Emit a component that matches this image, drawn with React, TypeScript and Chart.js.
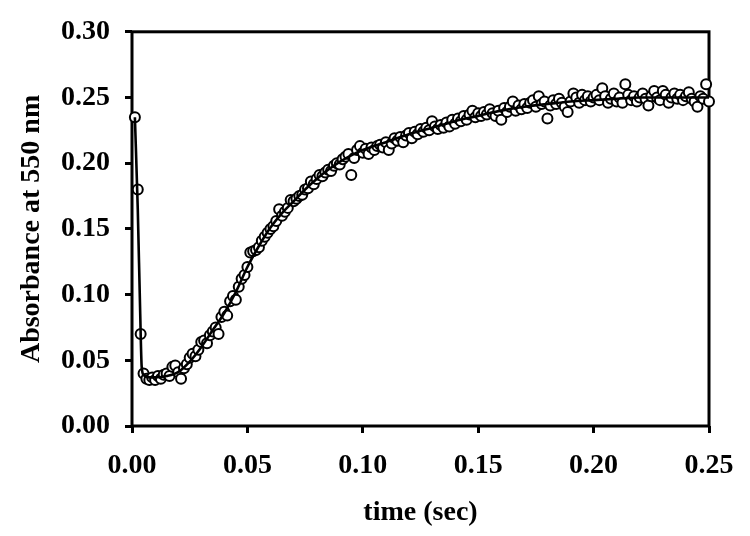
import { useEffect, useRef } from 'react';
import { Chart, registerables } from 'chart.js';

Chart.register(...registerables);

// Measured samples: time (s)
const sampleTime = [
  0.00125, 0.0025, 0.00375, 0.005, 0.00625, 0.0075, 0.00875, 0.01,
  0.01125, 0.0125, 0.01375, 0.015, 0.01625, 0.0175, 0.01875, 0.02,
  0.02125, 0.0225, 0.02375, 0.025, 0.02625, 0.0275, 0.02875, 0.03,
  0.03125, 0.0325, 0.03375, 0.035, 0.03625, 0.0375, 0.03875, 0.04,
  0.04125, 0.0425, 0.04375, 0.045, 0.04625, 0.0475, 0.04875, 0.05,
  0.05125, 0.0525, 0.05375, 0.055, 0.05625, 0.0575, 0.05875, 0.06,
  0.06125, 0.0625, 0.06375, 0.065, 0.06625, 0.0675, 0.06875, 0.07,
  0.07125, 0.0725, 0.07375, 0.075, 0.07625, 0.0775, 0.07875, 0.08,
  0.08125, 0.0825, 0.08375, 0.085, 0.08625, 0.0875, 0.08875, 0.09,
  0.09125, 0.0925, 0.09375, 0.095, 0.09625, 0.0975, 0.09875, 0.1,
  0.10125, 0.1025, 0.10375, 0.105, 0.10625, 0.1075, 0.10875, 0.11,
  0.11125, 0.1125, 0.11375, 0.115, 0.11625, 0.1175, 0.11875, 0.12,
  0.12125, 0.1225, 0.12375, 0.125, 0.12625, 0.1275, 0.12875, 0.13,
  0.13125, 0.1325, 0.13375, 0.135, 0.13625, 0.1375, 0.13875, 0.14,
  0.14125, 0.1425, 0.14375, 0.145, 0.14625, 0.1475, 0.14875, 0.15,
  0.15125, 0.1525, 0.15375, 0.155, 0.15625, 0.1575, 0.15875, 0.16,
  0.16125, 0.1625, 0.16375, 0.165, 0.16625, 0.1675, 0.16875, 0.17,
  0.17125, 0.1725, 0.17375, 0.175, 0.17625, 0.1775, 0.17875, 0.18,
  0.18125, 0.1825, 0.18375, 0.185, 0.18625, 0.1875, 0.18875, 0.19,
  0.19125, 0.1925, 0.19375, 0.195, 0.19625, 0.1975, 0.19875, 0.2,
  0.20125, 0.2025, 0.20375, 0.205, 0.20625, 0.2075, 0.20875, 0.21,
  0.21125, 0.2125, 0.21375, 0.215, 0.21625, 0.2175, 0.21875, 0.22,
  0.22125, 0.2225, 0.22375, 0.225, 0.22625, 0.2275, 0.22875, 0.23,
  0.23125, 0.2325, 0.23375, 0.235, 0.23625, 0.2375, 0.23875, 0.24,
  0.24125, 0.2425, 0.24375, 0.245, 0.24625, 0.2475, 0.24875, 0.25,
];

// Measured samples: absorbance at 550 nm
const sampleAbsorbance = [
  0.235, 0.180, 0.070, 0.040, 0.036, 0.035, 0.037, 0.035,
  0.038, 0.036, 0.039, 0.040, 0.038, 0.045, 0.046, 0.041,
  0.036, 0.044, 0.047, 0.052, 0.055, 0.053, 0.058, 0.064,
  0.065, 0.063, 0.069, 0.072, 0.075, 0.070, 0.083, 0.087,
  0.084, 0.095, 0.099, 0.096, 0.106, 0.112, 0.115, 0.121,
  0.132, 0.133, 0.134, 0.136, 0.141, 0.144, 0.147, 0.150,
  0.152, 0.156, 0.165, 0.160, 0.163, 0.166, 0.172, 0.171,
  0.173, 0.175, 0.176, 0.180, 0.181, 0.186, 0.184, 0.188,
  0.191, 0.190, 0.193, 0.195, 0.194, 0.198, 0.200, 0.199,
  0.203, 0.205, 0.207, 0.191, 0.204, 0.210, 0.213, 0.208,
  0.211, 0.207, 0.212, 0.210, 0.213, 0.214, 0.212, 0.216,
  0.210, 0.215, 0.219, 0.217, 0.220, 0.216, 0.221, 0.223,
  0.219, 0.224, 0.222, 0.226, 0.224, 0.227, 0.225, 0.232,
  0.228, 0.226, 0.229, 0.227, 0.231, 0.228, 0.233, 0.230,
  0.234, 0.232, 0.236, 0.233, 0.237, 0.240, 0.235, 0.238,
  0.236, 0.239, 0.237, 0.241, 0.238, 0.236, 0.240, 0.233,
  0.242, 0.239, 0.243, 0.247, 0.240, 0.244, 0.241, 0.245,
  0.242, 0.246, 0.248, 0.243, 0.251, 0.245, 0.247, 0.234,
  0.244, 0.248, 0.245, 0.249, 0.246, 0.243, 0.239, 0.247,
  0.253, 0.250, 0.246, 0.252, 0.248, 0.251, 0.247, 0.250,
  0.252, 0.248, 0.257, 0.251, 0.246, 0.249, 0.253, 0.247,
  0.250, 0.246, 0.260, 0.252, 0.248, 0.251, 0.247, 0.250,
  0.253, 0.249, 0.244, 0.251, 0.255, 0.250, 0.248, 0.255,
  0.252, 0.246, 0.250, 0.253, 0.249, 0.252, 0.248, 0.251,
  0.254, 0.249, 0.247, 0.243, 0.251, 0.249, 0.260, 0.247,
];

// Fitted curve
const fitTime = [
  0.00125, 0.0025, 0.0035, 0.0042, 0.005, 0.0075, 0.01, 0.015, 0.02, 0.025,
  0.03, 0.035, 0.04, 0.045, 0.05, 0.055, 0.06, 0.065, 0.07, 0.075,
  0.08, 0.085, 0.09, 0.095, 0.1, 0.11, 0.12, 0.13, 0.14, 0.15,
  0.16, 0.17, 0.18, 0.19, 0.2, 0.21, 0.22, 0.23, 0.24, 0.25,
];
const fitAbsorbance = [
  0.235, 0.165, 0.09, 0.045, 0.039, 0.037, 0.037, 0.038, 0.041, 0.049,
  0.06, 0.073, 0.086, 0.102, 0.121, 0.137, 0.151, 0.162, 0.171, 0.18,
  0.188, 0.195, 0.201, 0.206, 0.21, 0.216, 0.222, 0.227, 0.232, 0.236,
  0.24, 0.243, 0.245, 0.247, 0.248, 0.249, 0.25, 0.25, 0.25, 0.25,
];

const xAxisRange = [0, 0.25];
const yAxisRange = [0, 0.3];
const tickStep = 0.05;
const xTitle = 'time (sec)';
const yTitle = 'Absorbance at 550 nm';

const FONT = '"Liberation Serif", "Times New Roman", serif';

const framePlugin = {
  id: 'frame',
  beforeDatasetsDraw(chart: any) {
    const { ctx, chartArea } = chart;
    ctx.save();
    ctx.strokeStyle = '#000';
    ctx.lineWidth = 3;
    ctx.strokeRect(chartArea.left, chartArea.top, chartArea.right - chartArea.left, chartArea.bottom - chartArea.top);
    ctx.restore();
  },
};

export default function App() {
  const canvasRef = useRef<HTMLCanvasElement | null>(null);

  useEffect(() => {
    if (!canvasRef.current) return;
    const samples = sampleTime.map((t, i) => ({ x: t, y: sampleAbsorbance[i] }));
    const fit = fitTime.map((t, i) => ({ x: t, y: fitAbsorbance[i] }));
    const chart = new Chart(canvasRef.current, {
      type: 'scatter',
      data: {
        datasets: [
          {
            type: 'line',
            label: 'fit',
            data: fit,
            borderColor: '#000',
            borderWidth: 2.6,
            pointRadius: 0,
            showLine: true,
            fill: false,
            cubicInterpolationMode: 'monotone',
            clip: false,
          } as any,
          {
            label: 'data',
            data: samples,
            pointRadius: 5,
            pointBorderWidth: 2,
            pointBorderColor: '#000',
            pointBackgroundColor: '#fff',
            showLine: false,
            clip: false,
          } as any,
        ],
      },
      options: {
        animation: false,
        responsive: true,
        maintainAspectRatio: false,
        layout: { padding: { top: 23, right: 41, left: 0, bottom: 0 } },
        plugins: { legend: { display: false }, tooltip: { enabled: false } },
        scales: {
          x: {
            type: 'linear',
            min: xAxisRange[0],
            max: xAxisRange[1],
            afterFit: (s: any) => { s.height = 110; },
            border: { display: false },
            grid: { display: true, drawOnChartArea: false, drawTicks: true, tickLength: 7, lineWidth: 3, color: '#000' },
            ticks: {
              stepSize: tickStep,
              padding: 16,
              color: '#000',
              maxRotation: 0,
              autoSkip: false,
              font: { family: FONT, size: 28, weight: 'bold' },
              callback: (v: any) => Number(v).toFixed(2),
            },
            title: {
              display: true,
              text: xTitle,
              color: '#000',
              font: { family: FONT, size: 28, weight: 'bold' },
              padding: { top: 0, bottom: 6 },
            },
          },
          y: {
            type: 'linear',
            min: yAxisRange[0],
            max: yAxisRange[1],
            afterFit: (s: any) => { s.width = 132; },
            border: { display: false },
            grid: { display: true, drawOnChartArea: false, drawTicks: true, tickLength: 7, lineWidth: 3, color: '#000' },
            ticks: {
              stepSize: tickStep,
              padding: 15,
              color: '#000',
              autoSkip: false,
              font: { family: FONT, size: 28, weight: 'bold' },
              callback: (v: any) => Number(v).toFixed(2),
            },
            title: {
              display: true,
              text: yTitle,
              color: '#000',
              font: { family: FONT, size: 28, weight: 'bold' },
              padding: { top: 15, bottom: 0 },
            },
          },
        },
      },
      plugins: [framePlugin],
    });
    return () => chart.destroy();
  }, []);

  return (
    <div style={{ position: 'fixed', left: 0, top: 0, width: 750, height: 536, background: '#fff' }}>
      <canvas ref={canvasRef} />
    </div>
  );
}
